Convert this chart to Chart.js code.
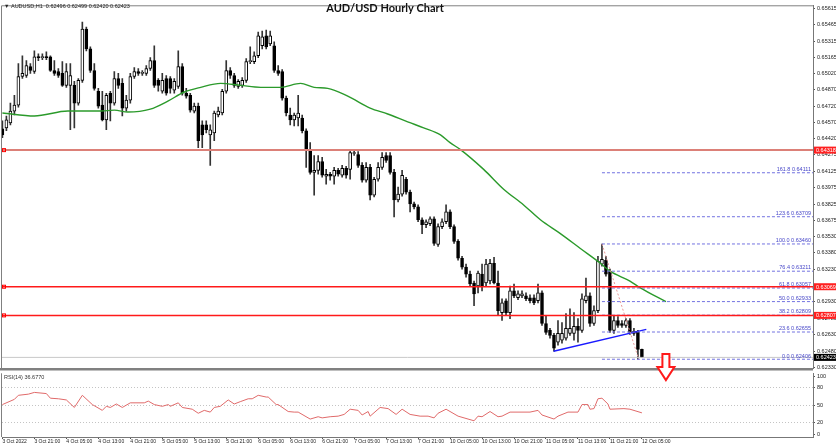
<!DOCTYPE html>
<html>
<head>
<meta charset="utf-8">
<script src="https://cdn.jsdelivr.net/npm/chart.js@4.4.1/dist/chart.umd.min.js"></script>
<style>
html, body { margin: 0; padding: 0; background: #fff; }
#wrap { position: relative; width: 836px; height: 448px; overflow: hidden; }
#rsi { position: absolute; left: 0; top: 368px; }
#main { position: absolute; left: 0; top: 0; z-index: 2; }
</style>
</head>
<body>
<div id="wrap">
  <canvas id="rsi" width="836" height="80"></canvas>
  <canvas id="main" width="836" height="448"></canvas>
</div>
<script>
// AUD/USD H1, 3 Oct 13:00 -> 12 Oct 05:00 (161 bars)
const opens = [
  0.64513,0.64522,0.64567,0.64675,0.64729,0.64991,0.65000,0.65082,0.65037,0.65172,
  0.65163,0.65172,0.65172,0.65046,0.65037,0.65019,0.64910,0.64910,0.64910,0.64748,
  0.64955,0.65425,0.65244,0.65046,0.64856,0.64729,0.64594,0.64838,0.64748,0.64973,
  0.64928,0.64702,0.64775,0.64991,0.65037,0.65019,0.65019,0.65064,0.65136,0.64955,
  0.64856,0.64973,0.64973,0.64865,0.64901,0.65082,0.64838,0.64820,0.64675,0.64720,
  0.64549,0.64549,0.64458,0.64476,0.64639,0.64657,0.64856,0.65046,0.65000,0.64901,
  0.64910,0.64955,0.65127,0.65127,0.65181,0.65272,0.65362,0.65290,0.65272,0.65046,
  0.65037,0.64793,0.64639,0.64594,0.64612,0.64612,0.64495,0.64323,0.64115,0.64133,
  0.64214,0.64079,0.64097,0.64079,0.64133,0.64088,0.64151,0.64142,0.64287,0.64278,
  0.64178,0.64043,0.64160,0.63907,0.64052,0.64160,0.64269,0.64269,0.64115,0.63862,
  0.63916,0.64052,0.63934,0.63826,0.63799,0.63681,0.63636,0.63645,0.63690,0.63455,
  0.63618,0.63663,0.63754,0.63618,0.63483,0.63329,0.63248,0.63184,0.63103,0.63076,
  0.63184,0.63103,0.63121,0.63284,0.63103,0.62832,0.62941,0.62832,0.63031,0.62968,
  0.62986,0.62986,0.62968,0.62968,0.62941,0.63013,0.62733,0.62670,0.62625,0.62562,
  0.62580,0.62598,0.62643,0.62643,0.62706,0.62670,0.62941,0.62986,0.62733,0.62850,
  0.63275,0.63311,0.63211,0.62670,0.62760,0.62733,0.62715,0.62760,0.62661,0.62652,
  0.62496];
const highs = [
  0.64585,0.64630,0.64748,0.64820,0.65109,0.65181,0.65136,0.65109,0.65226,0.65199,
  0.65199,0.65217,0.65181,0.65136,0.65064,0.65127,0.65109,0.65109,0.64946,0.64973,
  0.65488,0.65443,0.65262,0.65109,0.64883,0.64856,0.64838,0.64856,0.65037,0.65019,
  0.64973,0.64820,0.65019,0.65073,0.65064,0.65046,0.65091,0.65163,0.65272,0.64973,
  0.65019,0.65000,0.64991,0.64973,0.65226,0.65109,0.64883,0.64838,0.64748,0.64748,
  0.64585,0.64585,0.64549,0.64675,0.64711,0.64874,0.65136,0.65073,0.65019,0.64964,
  0.64982,0.65154,0.65262,0.65217,0.65398,0.65407,0.65416,0.65407,0.65308,0.65091,
  0.65055,0.64811,0.64702,0.64657,0.64820,0.64639,0.64513,0.64386,0.64269,0.64269,
  0.64251,0.64142,0.64115,0.64160,0.64151,0.64178,0.64169,0.64323,0.64323,0.64305,
  0.64205,0.64205,0.64187,0.64070,0.64205,0.64296,0.64296,0.64296,0.64142,0.63980,
  0.64133,0.64070,0.63952,0.63844,0.63817,0.63699,0.63681,0.63708,0.63708,0.63645,
  0.63690,0.63817,0.63772,0.63636,0.63501,0.63347,0.63275,0.63211,0.63121,0.63211,
  0.63275,0.63319,0.63319,0.63338,0.63211,0.62959,0.62959,0.63076,0.63094,0.63031,
  0.63031,0.63013,0.62995,0.62995,0.63094,0.63031,0.62805,0.62688,0.62643,0.62760,
  0.62742,0.62823,0.62868,0.62832,0.62778,0.63004,0.63148,0.63013,0.62895,0.63347,
  0.63460,0.63347,0.63230,0.62805,0.62796,0.62760,0.62778,0.62778,0.62688,0.62670,
  0.62499];
const lows = [
  0.64431,0.64495,0.64549,0.64639,0.64711,0.64973,0.64982,0.65019,0.65019,0.65136,
  0.65145,0.65145,0.65037,0.65000,0.64982,0.64901,0.64892,0.64504,0.64522,0.64729,
  0.64937,0.65226,0.65028,0.64865,0.64702,0.64585,0.64504,0.64585,0.64729,0.64883,
  0.64630,0.64675,0.64748,0.64973,0.65000,0.65000,0.65000,0.65046,0.64892,0.64856,
  0.64838,0.64820,0.64838,0.64838,0.64883,0.64820,0.64793,0.64666,0.64657,0.64341,
  0.64341,0.64476,0.64178,0.64404,0.64621,0.64639,0.64838,0.64973,0.64892,0.64883,
  0.64892,0.64937,0.65109,0.65109,0.65163,0.65244,0.65244,0.65272,0.65028,0.65000,
  0.64775,0.64630,0.64549,0.64540,0.64540,0.64476,0.64160,0.64097,0.63907,0.64097,
  0.64070,0.64007,0.64043,0.64007,0.64079,0.64070,0.64061,0.64052,0.64269,0.64160,
  0.64025,0.64025,0.63862,0.63889,0.64034,0.64142,0.64205,0.64097,0.63708,0.63844,
  0.63898,0.63916,0.63754,0.63781,0.63663,0.63555,0.63609,0.63627,0.63446,0.63437,
  0.63600,0.63645,0.63600,0.63464,0.63311,0.63230,0.63157,0.63076,0.62895,0.63013,
  0.63031,0.63076,0.63094,0.63094,0.62805,0.62760,0.62805,0.62778,0.62968,0.62950,
  0.62968,0.62941,0.62922,0.62904,0.62922,0.62715,0.62634,0.62598,0.62480,0.62534,
  0.62553,0.62580,0.62625,0.62580,0.62562,0.62652,0.62922,0.62706,0.62715,0.62832,
  0.63257,0.63166,0.62652,0.62643,0.62697,0.62697,0.62697,0.62634,0.62625,0.62406,
  0.62420];
const closes = [
  0.64458,0.64594,0.64675,0.64729,0.64991,0.65019,0.65091,0.65046,0.65172,0.65163,
  0.65172,0.65163,0.65046,0.65019,0.65000,0.64910,0.65037,0.65000,0.64748,0.64955,
  0.65425,0.65244,0.65046,0.64883,0.64720,0.64594,0.64820,0.64748,0.64973,0.64910,
  0.64702,0.64775,0.64991,0.65037,0.65019,0.65028,0.65064,0.65136,0.64910,0.64910,
  0.64955,0.64838,0.64883,0.64946,0.65082,0.64838,0.64811,0.64684,0.64720,0.64404,
  0.64458,0.64504,0.64504,0.64657,0.64675,0.64856,0.65046,0.65000,0.64910,0.64946,
  0.64955,0.65127,0.65136,0.65181,0.65362,0.65353,0.65262,0.65362,0.65046,0.65019,
  0.64793,0.64657,0.64594,0.64639,0.64657,0.64495,0.64332,0.64115,0.64133,0.64214,
  0.64088,0.64097,0.64079,0.64133,0.64097,0.64151,0.64088,0.64296,0.64296,0.64178,
  0.64043,0.64160,0.63907,0.64052,0.64160,0.64251,0.64223,0.64115,0.63862,0.63916,
  0.64088,0.63934,0.63826,0.63799,0.63681,0.63636,0.63663,0.63690,0.63464,0.63618,
  0.63663,0.63754,0.63618,0.63483,0.63329,0.63248,0.63184,0.63094,0.63004,0.63193,
  0.63076,0.63275,0.63284,0.63103,0.62850,0.62922,0.62832,0.63031,0.62986,0.63004,
  0.63004,0.62959,0.62941,0.62922,0.63013,0.62733,0.62652,0.62625,0.62508,0.62643,
  0.62643,0.62688,0.62688,0.62706,0.62670,0.62959,0.62986,0.62733,0.62850,0.63302,
  0.63319,0.63184,0.62670,0.62760,0.62715,0.62715,0.62760,0.62652,0.62643,0.62496,
  0.62423];

// moving average, bar index -> price
const maIdx = [0, 8, 16.4, 24.6, 28, 31.4, 37, 41.4, 45.4, 49.6, 54.6, 59.6, 64.6, 69.6, 74.6, 78, 81.4, 86.4, 92, 96.4,
  101.4, 105.4, 109.6, 112, 114.6, 120.4, 125.4, 130.4, 134.6, 139.6, 144.6, 149.6, 152, 157, 159.6, 166];
const maVal = [0.64657, 0.64630, 0.64675, 0.64675, 0.64684, 0.64666, 0.64693, 0.64766, 0.64847, 0.64892, 0.64928, 0.64910,
  0.64892, 0.64892, 0.64928, 0.64892, 0.64883, 0.64811, 0.64702, 0.64648, 0.64576, 0.64522, 0.64458, 0.64386, 0.64323,
  0.64142, 0.63961, 0.63817, 0.63681, 0.63555, 0.63419, 0.63284, 0.63211, 0.63121, 0.63058, 0.62932];

// RSI(14)
const rsiIdx = [0, 3, 4, 6.5, 8, 11, 12, 14, 16, 18, 20, 22.5, 25, 26, 27, 28.5, 30, 32, 35.5, 36.5, 38, 40, 41.5, 42, 44, 45,
  47.5, 49, 50.5, 52, 53, 54.5, 56.5, 58, 59.5, 61.5, 62.5, 64, 66, 66.5, 68.5, 69, 71.5, 73, 74, 77, 79, 80, 82, 84, 85.5,
  87, 89, 90, 91.5, 92, 94.5, 96.5, 98.5, 100, 102, 104.5, 106.5, 108, 109, 111, 114, 118, 119, 120, 122, 124, 125, 127,
  132, 134, 135, 138, 139, 141.5, 144, 145, 146.5, 147, 148, 149, 150, 151.5, 152, 155.5, 157, 160];
const rsiVal = [51, 60, 67, 69, 72, 70, 62, 61, 59, 46, 67, 51, 41, 48, 46, 52, 46, 54, 54, 57, 51, 48, 51, 48, 54, 46,
  43, 36, 41, 38, 46, 48, 59, 52, 56, 61, 61, 67, 64, 64, 51, 51, 39, 38, 38, 26, 30, 28, 30, 31, 34,
  43, 41, 33, 39, 31, 46, 44, 34, 43, 34, 31, 31, 28, 36, 43, 31, 23, 31, 30, 39, 30, 31, 38,
  38, 41, 33, 26, 31, 38, 38, 51, 51, 43, 44, 61, 62, 52, 43, 44, 43, 36.7];

const timeIdx = [0, 8, 16, 24, 32, 40, 48, 56, 64, 72, 80, 88, 96, 104, 112, 120, 128, 136, 144, 152, 160];
const timeLabels = ['3 Oct 2022', '3 Oct 21:00', '4 Oct 05:00', '4 Oct 13:00', '4 Oct 21:00', '5 Oct 05:00', '5 Oct 13:00',
  '5 Oct 21:00', '6 Oct 05:00', '6 Oct 13:00', '6 Oct 21:00', '7 Oct 05:00', '7 Oct 13:00', '7 Oct 21:00', '10 Oct 05:00',
  '10 Oct 13:00', '10 Oct 21:00', '11 Oct 05:00', '11 Oct 13:00', '11 Oct 21:00', '12 Oct 05:00'];
const priceTicks = [0.65615, 0.65465, 0.65315, 0.65165, 0.65020, 0.64870, 0.64720, 0.64570, 0.64420, 0.64275, 0.64125,
  0.63975, 0.63825, 0.63675, 0.63530, 0.63380, 0.63230, 0.62930, 0.62780, 0.62630, 0.62480, 0.62330];
const rsiTicks = [0, 20, 50, 80, 100];

// drawn objects
const levelVals = [0.64318, 0.63069, 0.62807];
const fibPct = [0, 23.6, 38.2, 50, 61.8, 76.4, 100, 123.6, 161.8];
const fibVal = [0.62406, 0.62655, 0.62809, 0.62933, 0.63057, 0.63211, 0.63460, 0.63709, 0.64111];
const fibFrom = 150, fibLowIdx = 159.2;
const trendIdx = [137.9, 161.1];
const trendVal = [0.62480, 0.62679];
const lastPrice = 0.62423;
const arrowIdx = 166, arrowTop = 0.62453;

const X_MIN = -0.1, X_MAX = 202.8;
const FONT = 'Liberation Sans';
Chart.defaults.font.family = FONT;
Chart.defaults.animation = false;

const idx = opens.map((_, i) => i);
const hline = (v, x0 = X_MIN) => [{ x: x0, y: v }, { x: X_MAX, y: v }];
const lineDs = (data, color, width, dash) => ({
  type: 'line', data, borderColor: color, borderWidth: width, borderDash: dash || [],
  pointRadius: 0, fill: false, order: 0
});

const datasets = [
  { type: 'bar', data: idx.map(i => ({ x: i, y: [lows[i], highs[i]] })), backgroundColor: '#333',
    barThickness: 1, grouped: false, order: 3 },
  { type: 'bar', data: idx.map(i => ({ x: i, y: [Math.min(opens[i], closes[i]), Math.max(opens[i], closes[i])] })),
    backgroundColor: idx.map(i => closes[i] >= opens[i] ? '#fff' : '#000'), borderColor: '#000', borderWidth: 1,
    borderSkipped: false, barThickness: 3, minBarLength: 1, grouped: false, order: 2 },
  { ...lineDs(maIdx.map((x, k) => ({ x, y: maVal[k] })), '#2b9a2b', 1.4), cubicInterpolationMode: 'monotone', order: 1 },
  lineDs(hline(lastPrice), '#c8c8c8', 1),
  lineDs(hline(levelVals[0]), '#dc8078', 2),
  lineDs(hline(levelVals[1]), '#ff1a1a', 1.5),
  lineDs(hline(levelVals[2]), '#ff1a1a', 1.5),
  ...fibVal.map(v => lineDs(hline(v, fibFrom), '#7272e0', 1, [3, 2])),
  lineDs([{ x: fibFrom, y: fibVal[6] }, { x: fibLowIdx, y: fibVal[0] }], '#e89898', 1, [2, 2]),
  lineDs(trendIdx.map((x, k) => ({ x, y: trendVal[k] })), '#1a1aff', 1.5)
];

const boxLabel = (ctx, x, y, text, bg) => {
  ctx.fillStyle = bg;
  ctx.fillRect(x, y - 3.5, 23, 7);
  ctx.fillStyle = '#fff';
  ctx.font = '5.5px ' + FONT;
  ctx.textAlign = 'left';
  ctx.textBaseline = 'middle';
  ctx.fillText(text, x + 2, y + 0.5);
};

const mainDecor = {
  id: 'mainDecor',
  afterDraw(chart) {
    const { ctx, chartArea: a, scales: { x, y } } = chart;
    ctx.save();
    // frame
    ctx.strokeStyle = '#808080'; ctx.lineWidth = 1;
    ctx.beginPath(); ctx.moveTo(a.left - 0.5, a.bottom); ctx.lineTo(a.left - 0.5, a.top + 0.5); ctx.lineTo(a.right, a.top + 0.5); ctx.stroke();
    // fib labels
    ctx.font = '5.5px ' + FONT; ctx.fillStyle = '#4646c8'; ctx.textAlign = 'right'; ctx.textBaseline = 'bottom';
    fibPct.forEach((p, k) => ctx.fillText(p.toFixed(1) + ' ' + fibVal[k].toFixed(5), a.right - 2, y.getPixelForValue(fibVal[k]) - 0.5));
    // level markers and axis boxes
    levelVals.forEach(v => {
      const py = y.getPixelForValue(v);
      ctx.strokeStyle = '#ff0000'; ctx.lineWidth = 1;
      ctx.strokeRect(a.left + 0.5, py - 1.5, 3, 3);
      boxLabel(ctx, a.right + 1, py, v.toFixed(5), '#ff2020');
    });
    boxLabel(ctx, a.right + 1, y.getPixelForValue(lastPrice), lastPrice.toFixed(5), '#000');
    // down arrow
    const ax = x.getPixelForValue(arrowIdx), ay = y.getPixelForValue(arrowTop);
    ctx.beginPath();
    ctx.moveTo(ax - 3.5, ay); ctx.lineTo(ax + 3.5, ay); ctx.lineTo(ax + 3.5, ay + 13); ctx.lineTo(ax + 8.5, ay + 13);
    ctx.lineTo(ax, ay + 26); ctx.lineTo(ax - 8.5, ay + 13); ctx.lineTo(ax - 3.5, ay + 13); ctx.closePath();
    ctx.fillStyle = '#fff'; ctx.fill();
    ctx.strokeStyle = '#ff1a1a'; ctx.lineWidth = 2; ctx.stroke();
    // header texts
    ctx.fillStyle = '#222'; ctx.font = '5.5px ' + FONT; ctx.textAlign = 'left'; ctx.textBaseline = 'middle';
    ctx.fillText('\u25BC AUDUSD,H1  0.62496 0.62499 0.62420 0.62423', a.left + 2, 6);
    ctx.fillStyle = '#111'; ctx.font = 'bold 11px Lato'; ctx.textAlign = 'center';
    ctx.fillText('AUD/USD Hourly Chart', 385, 8);
    ctx.restore();
  }
};

new Chart(document.getElementById('main'), {
  type: 'bar',
  data: { datasets },
  options: {
    responsive: false,
    layout: { padding: { left: 2, top: 1, right: 0, bottom: 80 } },
    plugins: { legend: { display: false }, tooltip: { enabled: false } },
    scales: {
      x: { type: 'linear', min: X_MIN, max: X_MAX, offset: false, display: false, grid: { offset: false } },
      y: {
        type: 'linear', position: 'right', min: 0.62326, max: 0.65642,
        afterBuildTicks: s => { s.ticks = priceTicks.map(v => ({ value: v })); },
        afterFit: s => { s.width = 23; },
        ticks: { autoSkip: false, padding: 2, color: '#222', font: { size: 5.5 }, callback: v => v.toFixed(5) },
        grid: { drawOnChartArea: false, drawTicks: true, tickLength: 2, tickColor: '#555' },
        border: { color: '#777', width: 1 }
      }
    }
  },
  plugins: [mainDecor]
});

const rsiDecor = {
  id: 'rsiDecor',
  afterDraw(chart) {
    const { ctx, chartArea: a } = chart;
    ctx.save();
    ctx.fillStyle = '#808080';
    ctx.fillRect(0, 0, a.right, 2.5);
    ctx.strokeStyle = '#808080'; ctx.lineWidth = 1;
    ctx.beginPath(); ctx.moveTo(a.left - 0.5, a.top); ctx.lineTo(a.left - 0.5, a.bottom); ctx.stroke();
    ctx.fillStyle = '#333'; ctx.font = '5.5px ' + FONT; ctx.textAlign = 'left'; ctx.textBaseline = 'middle';
    ctx.fillText('RSI(14) 36.6770', a.left + 2, a.top + 4);
    ctx.restore();
  }
};

new Chart(document.getElementById('rsi'), {
  type: 'line',
  data: {
    datasets: [{
      data: rsiIdx.map((x, k) => ({ x, y: rsiVal[k] })), borderColor: '#e06a6a', borderWidth: 1,
      pointRadius: 0, fill: false, tension: 0
    }]
  },
  options: {
    responsive: false,
    layout: { padding: { left: 2, top: 2, right: 0, bottom: 0 } },
    plugins: { legend: { display: false }, tooltip: { enabled: false } },
    scales: {
      x: {
        type: 'linear', min: X_MIN, max: X_MAX, position: 'bottom',
        afterBuildTicks: s => { s.ticks = timeIdx.map(v => ({ value: v })); },
        afterFit: s => { s.height = 11; },
        ticks: { autoSkip: false, maxRotation: 0, align: 'start', padding: 0, color: '#222', font: { size: 5 },
          callback: (v, i) => timeLabels[i] },
        grid: { drawOnChartArea: false, tickLength: 2, tickColor: '#555' },
        border: { color: '#777' }
      },
      y: {
        type: 'linear', position: 'right', min: -5, max: 105,
        afterBuildTicks: s => { s.ticks = rsiTicks.map(v => ({ value: v })); },
        afterFit: s => { s.width = 23; },
        ticks: { autoSkip: false, padding: 2, color: '#222', font: { size: 5.5 } },
        grid: { color: c => (c.tick && c.tick.value > 0 && c.tick.value < 100) ? '#c4c4c4' : 'rgba(0,0,0,0)',
          tickColor: '#555', tickLength: 2 },
        border: { color: '#777', dash: [1, 2] }
      }
    }
  },
  plugins: [rsiDecor]
});
</script>
</body>
</html>
